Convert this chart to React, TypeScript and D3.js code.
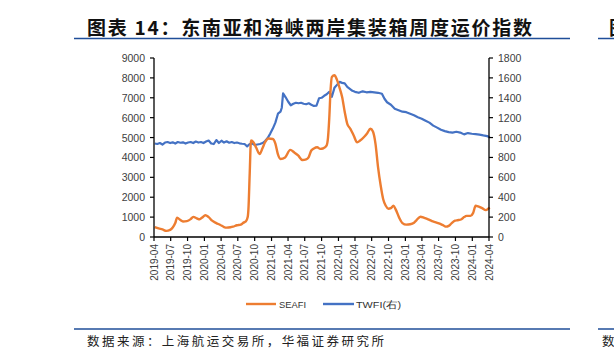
import React from "react";
import * as d3 from "d3";

const seafiDates = ["2019-04-05","2019-04-26","2019-05-17","2019-06-07","2019-06-28","2019-07-12","2019-07-26","2019-08-05","2019-08-23","2019-09-06","2019-09-27","2019-10-18","2019-11-01","2019-11-22","2019-12-06","2019-12-20","2020-01-06","2020-01-24","2020-02-12","2020-03-06","2020-03-28","2020-04-17","2020-05-01","2020-05-22","2020-06-05","2020-06-26","2020-07-17","2020-08-01","2020-08-14","2020-08-24","2020-08-28","2020-09-04","2020-09-11","2020-09-25","2020-10-09","2020-10-28","2020-11-12","2020-11-26","2020-12-16","2021-01-08","2021-01-22","2021-02-05","2021-02-19","2021-03-16","2021-04-13","2021-05-05","2021-05-26","2021-06-18","2021-07-09","2021-07-22","2021-08-06","2021-08-20","2021-09-07","2021-09-24","2021-10-08","2021-10-28","2021-11-05","2021-11-12","2021-11-19","2021-11-26","2021-12-10","2021-12-24","2022-01-07","2022-01-21","2022-02-04","2022-02-18","2022-03-07","2022-03-25","2022-04-13","2022-04-29","2022-05-19","2022-06-07","2022-06-24","2022-07-08","2022-07-22","2022-08-05","2022-08-19","2022-09-02","2022-09-16","2022-09-30","2022-10-14","2022-10-28","2022-11-11","2022-11-28","2022-12-16","2023-01-06","2023-01-27","2023-02-17","2023-03-03","2023-03-24","2023-04-14","2023-05-05","2023-05-26","2023-06-16","2023-07-07","2023-07-28","2023-08-11","2023-08-25","2023-09-08","2023-09-29","2023-10-13","2023-11-03","2023-11-17","2023-12-01","2023-12-22","2024-01-05","2024-01-19","2024-02-02","2024-02-23","2024-03-15","2024-03-29","2024-04-05"];
const seafiValues = [500,430,380,310,360,480,700,975,850,780,800,900,1010,930,890,980,1094,1000,820,700,606,500,470,490,520,590,620,722,780,1000,1400,3200,4850,4750,4500,4175,4450,4750,4950,4930,4700,4150,3920,4000,4380,4250,4100,3870,3900,4000,4350,4450,4510,4430,4450,4600,5000,6000,7400,8050,8130,7900,7500,7040,6300,5690,5440,5100,4760,4850,5015,5220,5440,5300,4680,3500,2600,1900,1570,1420,1450,1570,1350,975,700,620,640,720,850,1020,960,890,800,740,670,580,520,560,672,820,843,894,1000,1060,1060,1200,1570,1540,1450,1350,1430,1480];

const twfiDates = ["2019-04-05","2019-04-19","2019-05-03","2019-05-17","2019-05-31","2019-06-14","2019-06-28","2019-07-12","2019-07-26","2019-08-09","2019-08-23","2019-09-06","2019-09-20","2019-10-04","2019-10-18","2019-11-01","2019-11-15","2019-11-29","2019-12-13","2019-12-27","2020-01-10","2020-01-24","2020-02-07","2020-02-21","2020-03-06","2020-03-20","2020-04-03","2020-04-17","2020-05-01","2020-05-15","2020-05-29","2020-06-12","2020-06-26","2020-07-10","2020-07-24","2020-08-07","2020-08-21","2020-09-04","2020-09-18","2020-10-02","2020-10-16","2020-10-30","2020-11-13","2020-11-27","2020-12-11","2020-12-25","2021-01-08","2021-01-22","2021-02-05","2021-02-19","2021-02-26","2021-03-05","2021-03-19","2021-04-02","2021-04-16","2021-04-30","2021-05-14","2021-05-28","2021-06-11","2021-06-25","2021-07-09","2021-07-23","2021-08-06","2021-08-20","2021-09-03","2021-09-17","2021-10-01","2021-10-15","2021-10-29","2021-11-12","2021-11-26","2021-12-10","2021-12-24","2022-01-07","2022-01-21","2022-02-04","2022-02-18","2022-03-04","2022-03-18","2022-04-01","2022-04-22","2022-05-13","2022-06-03","2022-06-24","2022-07-15","2022-08-05","2022-08-26","2022-09-09","2022-09-23","2022-10-14","2022-11-04","2022-11-25","2022-12-16","2023-01-06","2023-01-27","2023-02-17","2023-03-10","2023-03-31","2023-04-21","2023-05-12","2023-06-02","2023-06-23","2023-07-14","2023-08-04","2023-08-25","2023-09-15","2023-10-06","2023-10-27","2023-11-17","2023-12-08","2023-12-29","2024-01-19","2024-02-09","2024-03-01","2024-03-22","2024-04-05"];
const twfiValues = [940,935,945,930,950,955,945,952,940,955,948,952,940,950,955,945,960,950,955,945,960,970,940,935,975,945,968,950,962,948,955,945,950,942,938,935,912,935,940,925,930,935,945,965,995,1040,1090,1150,1240,1260,1300,1445,1405,1360,1325,1340,1350,1345,1350,1340,1335,1345,1330,1318,1320,1395,1400,1420,1435,1460,1410,1500,1530,1560,1550,1545,1510,1490,1470,1460,1450,1465,1455,1460,1455,1450,1440,1390,1355,1330,1290,1275,1260,1255,1240,1225,1205,1190,1170,1150,1120,1100,1078,1065,1055,1050,1058,1050,1032,1045,1038,1035,1030,1022,1015,1000];

const leftTicks = [0,1000,2000,3000,4000,5000,6000,7000,8000,9000];
const rightTicks = [0,200,400,600,800,1000,1200,1400,1600,1800];
const seriesNames = ["SEAFI", "TWFI(右)"];
const titleText = "图表 14：东南亚和海峡两岸集装箱周度运价指数";
const sourceText = "数据来源：上海航运交易所，华福证券研究所";

const ORANGE = "#ED7D31";
const BLUE = "#4472C4";
const RULE = "#1F4E99";

export default function App() {
  const W = 614, H = 356;
  const left = 154, right = 489, top = 58, bottom = 237;
  const parse = d3.timeParse("%Y-%m-%d");
  const x = d3.scaleTime().domain([new Date(2019, 3, 1), new Date(2024, 3, 1)]).range([left, right]);
  const yL = d3.scaleLinear().domain([0, 9000]).range([bottom, top]);
  const yR = d3.scaleLinear().domain([0, 1800]).range([bottom, top]);
  const seafi = seafiDates.map((d, i) => ({ d: parse(d)!, v: seafiValues[i] }));
  const twfi = twfiDates.map((d, i) => ({ d: parse(d)!, v: twfiValues[i] }));
  const lineL = d3.line<{ d: Date; v: number }>().x(p => x(p.d)).y(p => yL(p.v)).curve(d3.curveMonotoneX);
  const lineR = d3.line<{ d: Date; v: number }>().x(p => x(p.d)).y(p => yR(p.v));
  const xTicks = d3.timeMonth.every(3)!.range(new Date(2019, 3, 1), new Date(2024, 3, 2));
  const fmt = d3.timeFormat("%Y-%m");
  const tickFont = "'Liberation Sans', Arial, sans-serif";
  const cjk = "'Noto Sans CJK SC', sans-serif";
  return (
    <svg width={W} height={H} style={{ position: "absolute", left: 0, top: 0, background: "#fff" }}>
      <rect width={W} height={H} fill="#fff" />
      <text x={87} y={26} fontFamily={cjk} fontWeight={700} fontSize={19} fill="#111" dominantBaseline="central" textLength={445} lengthAdjust="spacing">{titleText}</text>
      <text x={609} y={26} fontFamily={cjk} fontWeight={700} fontSize={19} fill="#111" dominantBaseline="central">图</text>
      <line x1={74} x2={570} y1={38.5} y2={38.5} stroke={RULE} strokeWidth={1.5} />
      <line x1={598} x2={614} y1={38.5} y2={38.5} stroke={RULE} strokeWidth={1.5} />

      <path d={lineR(twfi)!} fill="none" stroke={BLUE} strokeWidth={2.2} strokeLinejoin="round" />
      <path d={lineL(seafi)!} fill="none" stroke={ORANGE} strokeWidth={2.4} strokeLinejoin="round" />

      <line x1={left} x2={left} y1={top} y2={bottom} stroke="#000" strokeWidth={1.3} />
      <line x1={right} x2={right} y1={top} y2={bottom} stroke="#000" strokeWidth={1.3} />
      <line x1={left} x2={right} y1={bottom} y2={bottom} stroke="#000" strokeWidth={1.3} />
      {leftTicks.map(t => (
        <g key={"l" + t}>
          <line x1={left - 4} x2={left} y1={yL(t)} y2={yL(t)} stroke="#000" strokeWidth={1.2} />
          <text x={left - 9} y={yL(t)} textAnchor="end" dominantBaseline="central" fontFamily={tickFont} fontSize={10.5} fill="#404040">{t}</text>
        </g>
      ))}
      {rightTicks.map(t => (
        <g key={"r" + t}>
          <line x1={right} x2={right + 4} y1={yR(t)} y2={yR(t)} stroke="#000" strokeWidth={1.2} />
          <text x={right + 9} y={yR(t)} textAnchor="start" dominantBaseline="central" fontFamily={tickFont} fontSize={10.5} fill="#404040">{t}</text>
        </g>
      ))}
      {xTicks.map(t => (
        <g key={"x" + t.getTime()}>
          <line x1={x(t)} x2={x(t)} y1={bottom} y2={bottom + 4} stroke="#000" strokeWidth={1.2} />
          <text transform={`translate(${x(t)},${bottom + 7}) rotate(-90)`} textAnchor="end" dominantBaseline="central" fontFamily={tickFont} fontSize={10} fill="#404040">{fmt(t)}</text>
        </g>
      ))}

      <line x1={246} x2={276} y1={304} y2={304} stroke={ORANGE} strokeWidth={2.4} />
      <text x={279} y={304} dominantBaseline="central" fontFamily={tickFont} fontSize={9.5} fill="#333" textLength={27} lengthAdjust="spacingAndGlyphs">{seriesNames[0]}</text>
      <line x1={323} x2={354} y1={304} y2={304} stroke={BLUE} strokeWidth={2.4} />
      <text x={356} y={304} dominantBaseline="central" fontFamily={tickFont} fontSize={9.5} fill="#333" textLength={45} lengthAdjust="spacingAndGlyphs">{seriesNames[1]}</text>

      <line x1={74} x2={570} y1={329} y2={329} stroke={RULE} strokeWidth={1.5} />
      <line x1={598} x2={614} y1={329} y2={329} stroke={RULE} strokeWidth={1.5} />
      <text x={87} y={340} dominantBaseline="central" fontFamily={cjk} fontSize={12.5} fill="#222" textLength={297} lengthAdjust="spacing">{sourceText}</text>
      <text x={602} y={340} dominantBaseline="central" fontFamily={cjk} fontSize={12.5} fill="#222">数</text>
    </svg>
  );
}
